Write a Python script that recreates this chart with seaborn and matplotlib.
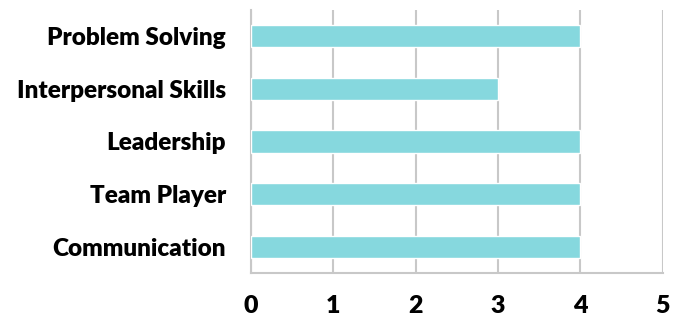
import matplotlib
matplotlib.use("Agg")
import matplotlib.pyplot as plt
import seaborn as sns
import pandas as pd

categories = ["Problem Solving", "Interpersonal Skills", "Leadership", "Team Player", "Communication"]
values = [4, 3, 4, 4, 4]
xticks = [0, 1, 2, 3, 4, 5]

sns.set_theme(style="white")
plt.rcParams['font.family'] = ['Lato', 'DejaVu Sans']

df = pd.DataFrame({"skill": categories, "score": values})

fig = plt.figure(figsize=(6.81, 3.18), dpi=100)
ax = fig.add_axes([251/681, 1-273/318, (662.7-251)/681, (273-10)/318])
sns.barplot(data=df, y="skill", x="score", orient="h", color="#86D8DE",
            saturation=1, width=0.42, ax=ax, zorder=3)
ax.set_xlim(0, 5)
ax.set_ylim(4.5, -0.5)
ax.set_xticks(xticks)
ax.set_xticklabels([str(t) for t in xticks])
ax.grid(axis="x", color="#C8C8C8", linewidth=1.5, zorder=0)
ax.set_axisbelow(True)
for s in ["top", "right"]:
    ax.spines[s].set_visible(False)
for s in ["left", "bottom"]:
    ax.spines[s].set_color("#C8C8C8")
    ax.spines[s].set_linewidth(1.5)
ax.set_xlabel("")
ax.set_ylabel("")
ax.tick_params(axis="x", length=0, pad=16, labelsize=18)
ax.tick_params(axis="y", length=0, pad=18, labelsize=17.5)
for lbl in ax.get_xticklabels() + ax.get_yticklabels():
    lbl.set_fontweight("heavy")
    lbl.set_color("black")

fig.savefig("out.png", dpi=100)
